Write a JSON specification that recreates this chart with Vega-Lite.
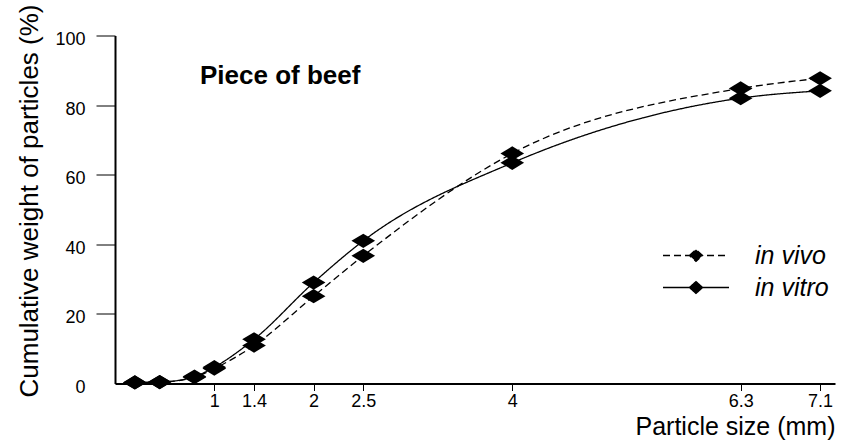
{
  "$schema": "https://vega.github.io/schema/vega-lite/v6.json",
  "width": 720,
  "height": 348,
  "autosize": {"type": "none"},
  "padding": {"left": 115, "top": 35.5, "right": 16, "bottom": 61.5},
  "background": "white",
  "config": {"view": {"stroke": null}, "font": "Liberation Sans"},
  "title": {"text": "Piece of beef", "anchor": "start", "frame": "group", "fontSize": 26, "fontWeight": "bold", "color": "black", "font": "Liberation Sans", "dx": 85, "offset": -106, "baseline": "alphabetic"},
  "data": {"values": [
    {"size": 0.2, "series": "in vivo", "weight": 0.3},
    {"size": 0.45, "series": "in vivo", "weight": 0.4},
    {"size": 0.8, "series": "in vivo", "weight": 1.8},
    {"size": 1.0, "series": "in vivo", "weight": 4.3},
    {"size": 1.4, "series": "in vivo", "weight": 10.9},
    {"size": 2.0, "series": "in vivo", "weight": 25.1},
    {"size": 2.5, "series": "in vivo", "weight": 36.7},
    {"size": 4.0, "series": "in vivo", "weight": 66.1},
    {"size": 6.3, "series": "in vivo", "weight": 84.8},
    {"size": 7.1, "series": "in vivo", "weight": 87.7},
    {"size": 0.2, "series": "in vitro", "weight": 0.3},
    {"size": 0.45, "series": "in vitro", "weight": 0.4},
    {"size": 0.8, "series": "in vitro", "weight": 2.0},
    {"size": 1.0, "series": "in vitro", "weight": 4.7},
    {"size": 1.4, "series": "in vitro", "weight": 12.7},
    {"size": 2.0, "series": "in vitro", "weight": 29.0},
    {"size": 2.5, "series": "in vitro", "weight": 41.0},
    {"size": 4.0, "series": "in vitro", "weight": 63.4},
    {"size": 6.3, "series": "in vitro", "weight": 82.0},
    {"size": 7.1, "series": "in vitro", "weight": 84.1}
  ]},
  "encoding": {
    "x": {"field": "size", "type": "quantitative",
      "scale": {"domain": [0, 7.25], "nice": false, "zero": false},
      "axis": {"title": "Particle size (mm)", "values": [1, 1.4, 2, 2.5, 4, 6.3, 7.1], "format": ".2~g", "grid": false,
        "tickSize": 7, "tickColor": "black", "tickWidth": 1, "domainColor": "black", "domainWidth": 2,
        "labelFontSize": 18, "labelColor": "black", "labelPadding": 2, "labelFlush": false, "labelOverlap": false,
        "titleFontSize": 25, "titleFontWeight": "normal", "titleColor": "black",
        "titleAnchor": "end", "titleAlign": "right", "titleX": 720, "titleY": 51, "titleBaseline": "alphabetic"}},
    "y": {"field": "weight", "type": "quantitative",
      "scale": {"domain": [0, 100], "nice": false},
      "axis": {"title": "Cumulative weight of particles (%)", "values": [0, 20, 40, 60, 80, 100], "grid": false,
        "tickSize": 19, "tickColor": "black", "tickWidth": 1, "domainColor": "black", "domainWidth": 2,
        "tickOpacity": {"condition": {"test": "datum.value === 0", "value": 0}, "value": 1},
        "labelFontSize": 18, "labelColor": "black", "labelPadding": 11, "labelOffset": 4,
        "titleFontSize": 26, "titleFontWeight": "normal", "titleColor": "black",
        "titleX": -78, "titleY": 165, "titleBaseline": "alphabetic", "titleAlign": "center", "titleAngle": -90}}
  },
  "layer": [
    {
      "mark": {"type": "line", "interpolate": "monotone", "strokeWidth": 1.3, "color": "black"},
      "encoding": {
        "strokeDash": {"field": "series", "type": "nominal",
          "scale": {"domain": ["in vivo", "in vitro"], "range": [[7, 4], [1, 0]]},
          "legend": {"title": null, "orient": "none", "legendX": 547, "legendY": 208,
            "symbolType": "M-1,0L1,0M-0.2,0L0,-0.18L0.2,0L0,0.18Z", "symbolSize": 4356,
            "symbolStrokeWidth": 1.3, "symbolStrokeColor": "black", "symbolFillColor": "black",
            "clipHeight": 24, "rowPadding": 7, "padding": 0,
            "labelFontSize": 25, "labelFontStyle": "italic", "labelOffset": 25, "labelColor": "black",
            "labelFont": "Liberation Sans", "labelLimit": 300,
            "encode": {"symbols": {"update": {"fill": {"value": "black"}, "stroke": {"value": "black"}}}}}
        }
      }
    },
    {
      "mark": {"type": "point", "filled": true, "color": "black", "opacity": 1,
        "shape": "M-1,0L0,-0.6L1,0L0,0.6Z", "size": 560},
      "encoding": {"detail": {"field": "series", "type": "nominal"}}
    }
  ]
}
